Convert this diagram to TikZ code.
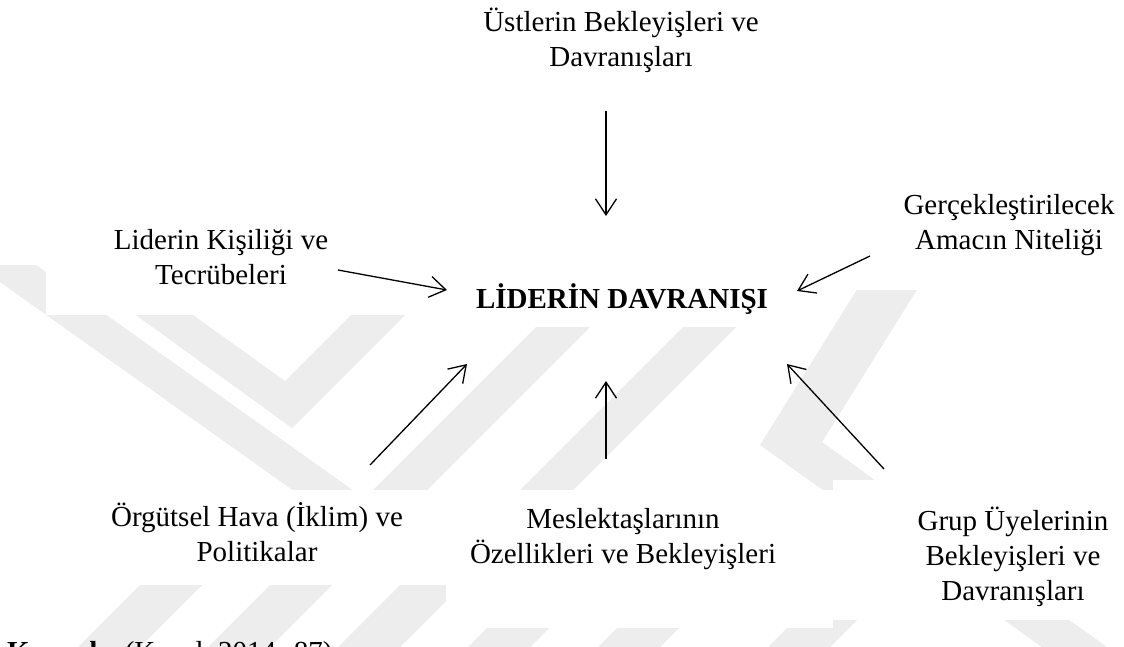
\documentclass[tikz,border=0pt]{standalone}
\usepackage{fontspec}
\setmainfont{Liberation Serif}
\usetikzlibrary{arrows.meta}
\definecolor{wmgray}{RGB}{237,237,237}
\begin{document}
\begin{tikzpicture}[x=1pt,y=-1pt,
  lbl/.style={anchor=base, inner sep=0pt, font=\fontsize{29}{35}\selectfont},
  arr/.style={line width=1.3pt, -{Straight Barb[length=16pt,width=21pt,line width=1.3pt]}},
  wm/.style={fill=wmgray, draw=none},
  blank/.style={fill=white, draw=none}]
\useasboundingbox (0,0) rectangle (1124,646);
\clip (0,0) rectangle (1124,646);
\fill[white] (0,0) rectangle (1124,646);
% ---- watermark (faint logo) ----
\fill[wm] (-24,265) -- (36,265) -- (430,545) -- (370,545) -- cycle;
\fill[wm] (318,545) -- (372,545) -- (617,300) -- (563,300) -- cycle;
\fill[wm] (129,310) -- (186,310) -- (285,381) -- (356,310) -- (410,310) -- (292,428) -- cycle;
\fill[wm] (510,500) -- (563,500) -- (763,300) -- (710,300) -- cycle;
\fill[wm] (760,445) -- (863,280) -- (923,280) -- (822,442) -- (1111,650) -- (1046,650) -- cycle;
\foreach \xo in {140,270,400,530,660,830}{
  \fill[wm] (\xo,585) -- (\xo+62,585) -- (\xo-3,650) -- (\xo-65,650) -- cycle;
}
% ---- white text boxes ----
\fill[blank] (46,190) rectangle (446,315);
\fill[blank] (446,255) rectangle (797,327);
\fill[blank] (797,175) rectangle (1124,290);
\fill[blank] (40,490) rectangle (432,585);
\fill[blank] (446,490) rectangle (833,628);
\fill[blank] (833,480) rectangle (1124,620);
% ---- texts ----
\node[lbl] (ust) at (621,31) {\begin{tabular}[t]{@{}c@{}}Üstlerin Bekleyişleri ve\\Davranışları\end{tabular}};
\node[lbl] (kis) at (221,249) {\begin{tabular}[t]{@{}c@{}}Liderin Kişiliği ve\\Tecrübeleri\end{tabular}};
\node[lbl] (amac) at (1009,214) {\begin{tabular}[t]{@{}c@{}}Gerçekleştirilecek\\Amacın Niteliği\end{tabular}};
\node[lbl] (lid) at (622,308) {\textbf{LİDERİN DAVRANIŞI}};
\node[lbl] (org) at (257,526) {\begin{tabular}[t]{@{}c@{}}Örgütsel Hava (İklim) ve\\Politikalar\end{tabular}};
\node[lbl] (mes) at (623,528) {\begin{tabular}[t]{@{}c@{}}Meslektaşlarının\\Özellikleri ve Bekleyişleri\end{tabular}};
\node[lbl] (grup) at (1013,530) {\begin{tabular}[t]{@{}c@{}}Grup Üyelerinin\\Bekleyişleri ve\\Davranışları\end{tabular}};
\node[lbl, anchor=base west] (kay) at (7,661) {\textbf{Kaynak:} (Koçel, 2014: 87)};
% ---- connectors ----
\coordinate (a1s) at (606,111); \coordinate (a1e) at (606,216);
\coordinate (a2s) at (338,270); \coordinate (a2e) at (447,290);
\coordinate (a3s) at (870,256); \coordinate (a3e) at (797,291);
\coordinate (a4s) at (370,465); \coordinate (a4e) at (467,364);
\coordinate (a5s) at (606,459); \coordinate (a5e) at (606,381);
\coordinate (a6s) at (884,469); \coordinate (a6e) at (787,364);
\draw[arr] (a1s) -- (a1e);
\draw[arr] (a2s) -- (a2e);
\draw[arr] (a3s) -- (a3e);
\draw[arr] (a4s) -- (a4e);
\draw[arr] (a5s) -- (a5e);
\draw[arr] (a6s) -- (a6e);
\end{tikzpicture}
\end{document}
